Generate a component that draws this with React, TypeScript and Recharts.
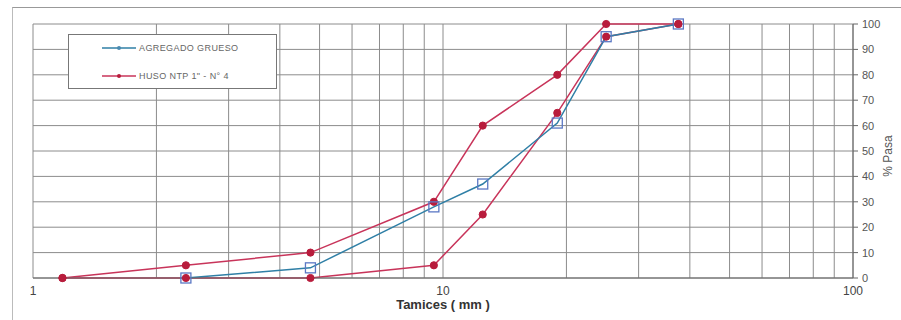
import { LineChart, Line, XAxis, YAxis, CartesianGrid } from 'recharts';

// tamices (mm) y % que pasa
const sieves = [37.5, 25, 19, 12.5, 9.5, 4.75, 2.36, 1.18];
const agregadoGrueso = [100, 95, 61, 37, 28, 4, 0, null];
const husoSuperior = [100, 100, 80, 60, 30, 10, 5, 0];
const husoInferior = [100, 95, 65, 25, 5, 0, 0, 0];

const xTicks = [1, 2, 3, 4, 5, 6, 7, 8, 9, 10, 20, 30, 40, 50, 60, 70, 80, 90, 100];
const xLabels = [1, 10, 100];
const yTicks = [0, 10, 20, 30, 40, 50, 60, 70, 80, 90, 100];

const BLUE = '#2f7fa6';
const BLUE_MARK = '#5b78c4';
const RED = '#c8345a';
const RED_MARK = '#b81c3c';
const GRID = '#8c8c8c';
const FONT = '"Liberation Sans", Arial, sans-serif';

const toRows = (vals: (number | null)[]) =>
  sieves.map((s, i) => ({ x: s, y: vals[i] })).filter((r) => r.y != null);

const gruesoRows = toRows(agregadoGrueso);
const supRows = toRows(husoSuperior);
const infRows = toRows(husoInferior);

function SquareDot(props: any) {
  const { cx, cy } = props;
  if (cx == null || cy == null) return null;
  return <rect x={cx - 5} y={cy - 5} width={10} height={10} fill="none" stroke={BLUE_MARK} strokeWidth={1.3} />;
}

function RedDot(props: any) {
  const { cx, cy } = props;
  if (cx == null || cy == null) return null;
  return <circle cx={cx} cy={cy} r={3.6} fill={RED_MARK} stroke={RED_MARK} />;
}

function LegendBox() {
  const items = [
    { label: 'AGREGADO GRUESO', color: BLUE, mark: '#4a8ab0' },
    { label: 'HUSO NTP 1" - N° 4', color: RED, mark: RED_MARK },
  ];
  return (
    <div
      style={{
        position: 'absolute',
        left: 68,
        top: 34,
        width: 207,
        height: 53,
        border: '1px solid #777',
        background: '#fff',
        fontFamily: FONT,
        fontSize: 9,
        color: '#666',
      }}
    >
      {items.map((it, i) => (
        <div
          key={it.label}
          style={{ position: 'absolute', left: 33, top: 8 + i * 28, display: 'flex', alignItems: 'center', whiteSpace: 'nowrap' }}
        >
          <svg width={34} height={8}>
            <line x1={0} y1={4} x2={34} y2={4} stroke={it.color} strokeWidth={1.5} />
            <circle cx={17} cy={4} r={2} fill={it.mark} />
          </svg>
          <span style={{ marginLeft: 3, letterSpacing: 0.4 }}>{it.label}</span>
        </div>
      ))}
    </div>
  );
}

export default function App() {
  return (
    <div style={{ position: 'absolute', left: 0, top: 0, width: 901, height: 320, background: '#fff' }}>
      <div
        style={{
          position: 'absolute',
          left: 12,
          top: 7,
          width: 889,
          height: 313,
          borderTop: '1px solid #999',
          borderLeft: '1px solid #bbb',
        }}
      />
      <LineChart width={901} height={320} margin={{ top: 24, right: 0, left: 33, bottom: 0 }}>
        <CartesianGrid stroke={GRID} strokeWidth={1} />
        <XAxis
          type="number"
          dataKey="x"
          scale="log"
          domain={[1, 100]}
          ticks={xTicks}
          allowDataOverflow
          height={42}
          tickLine={false}
          axisLine={{ stroke: '#666' }}
          tick={{ fill: '#444', fontSize: 12, fontFamily: FONT }}
          tickFormatter={(v: number) => (xLabels.includes(v) ? String(v) : '')}
          interval={0}
          label={{
            value: 'Tamices ( mm )',
            position: 'insideBottom',
            offset: 11,
            style: { fill: '#333', fontSize: 13, fontWeight: 'bold', fontFamily: FONT },
          }}
        />
        <YAxis
          type="number"
          orientation="right"
          domain={[0, 100]}
          ticks={yTicks}
          width={48}
          tickSize={5}
          tickMargin={4}
          tickLine={{ stroke: '#666' }}
          axisLine={{ stroke: '#666' }}
          tick={{ fill: '#555', fontSize: 11, fontFamily: FONT }}
        />
        <Line
          data={supRows}
          dataKey="y"
          name="huso superior"
          stroke={RED}
          strokeWidth={1.5}
          dot={<RedDot />}
          isAnimationActive={false}
        />
        <Line
          data={infRows}
          dataKey="y"
          name="huso inferior"
          stroke={RED}
          strokeWidth={1.5}
          dot={<RedDot />}
          isAnimationActive={false}
        />
        <Line
          data={gruesoRows}
          dataKey="y"
          name="AGREGADO GRUESO"
          stroke={BLUE}
          strokeWidth={1.5}
          dot={<SquareDot />}
          isAnimationActive={false}
        />
      </LineChart>
      <LegendBox />
      <div
        style={{
          position: 'absolute',
          left: 888,
          top: 156,
          transform: 'translate(-50%, -50%) rotate(-90deg)',
          fontFamily: FONT,
          fontSize: 12,
          color: '#555',
          whiteSpace: 'nowrap',
        }}
      >
        % Pasa
      </div>
    </div>
  );
}
